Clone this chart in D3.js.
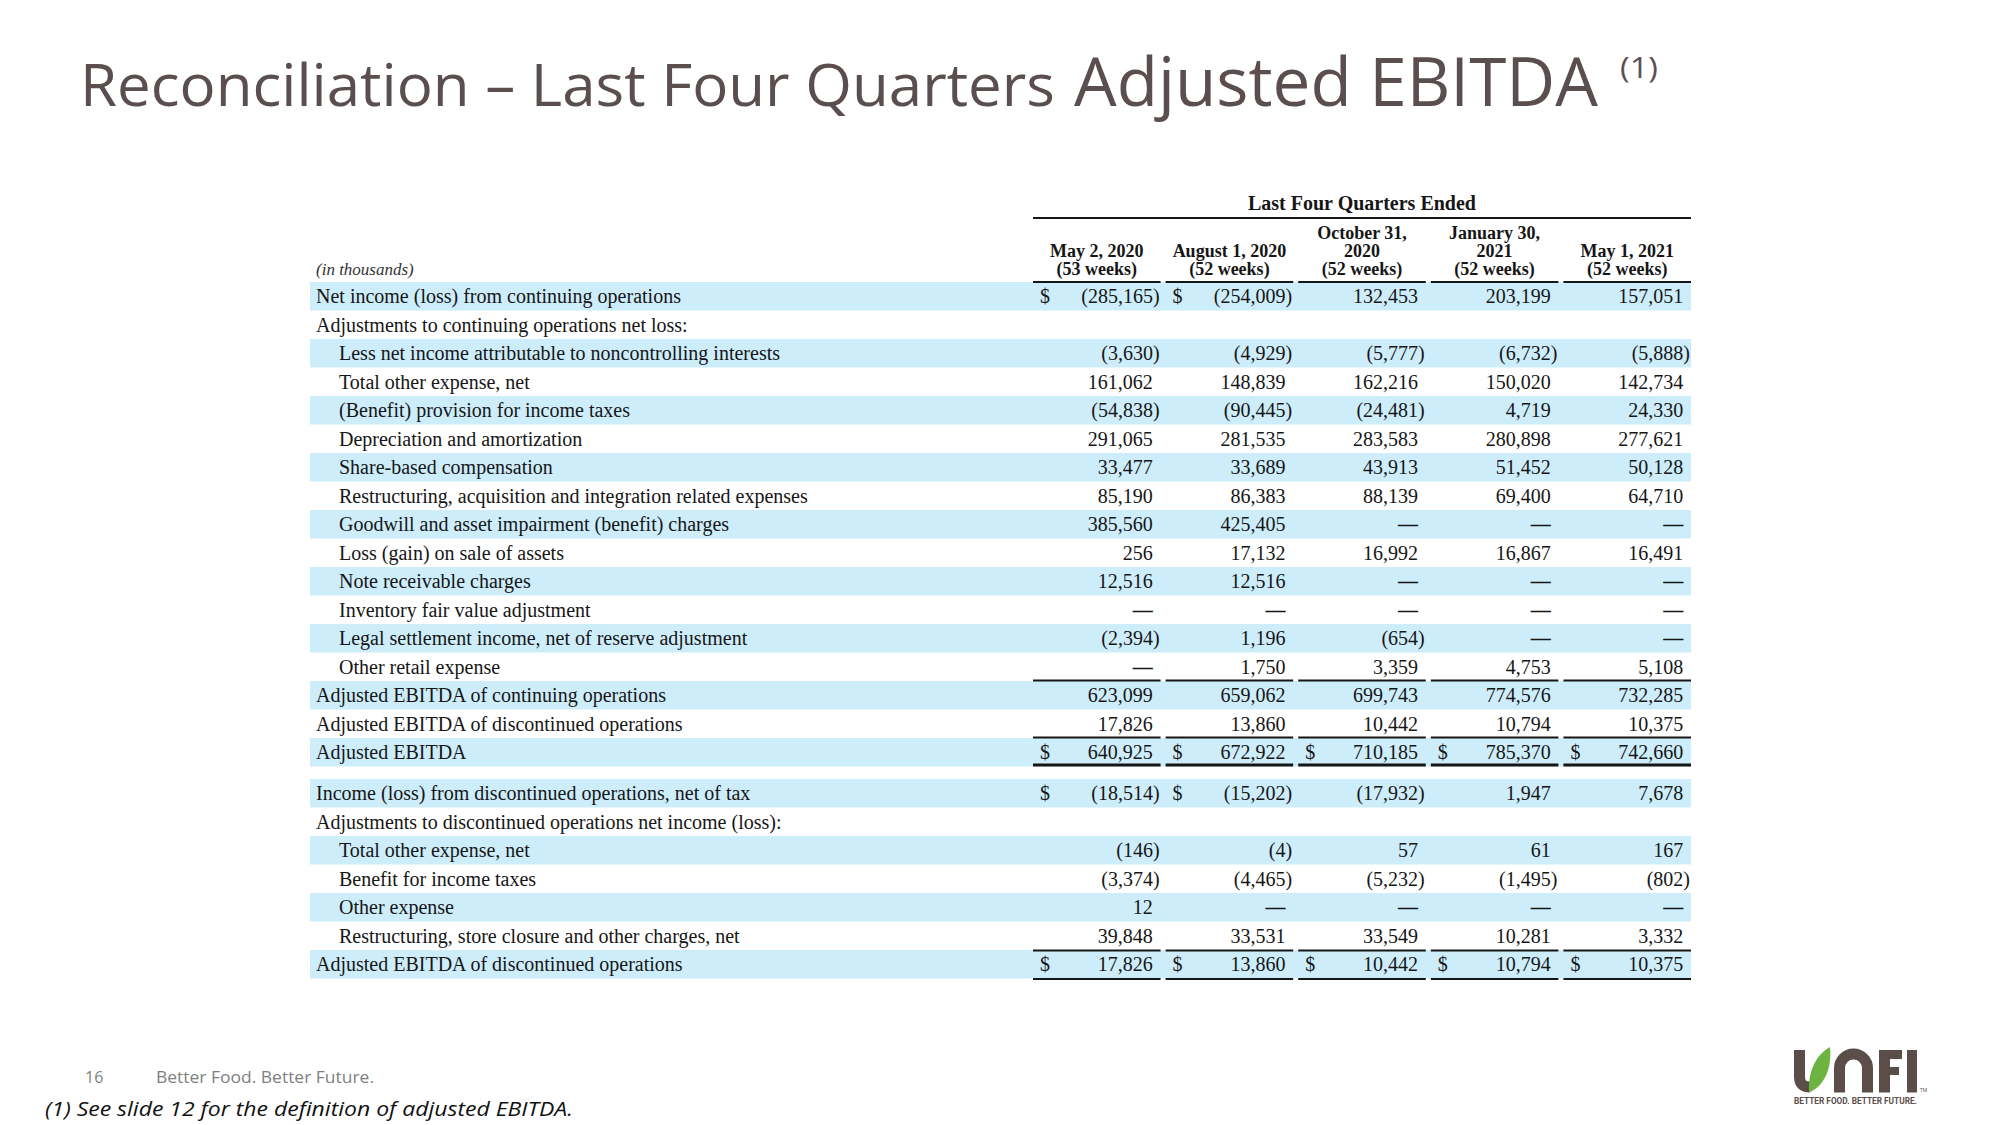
<!DOCTYPE html>
<html>
<head>
<meta charset="utf-8">
<script src="https://cdn.jsdelivr.net/npm/d3@7"></script>
<style>
  html, body { margin: 0; padding: 0; background: #ffffff; }
  svg { display: block; }
</style>
</head>
<body>
<svg id="chart" width="2000" height="1125"></svg>
<script>
// ---------------- DATA ----------------
const groupHeader = "Last Four Quarters Ended";
const columnHeaders = [
  ["May 2, 2020", "(53 weeks)"],
  ["August 1, 2020", "(52 weeks)"],
  ["October 31,", "2020", "(52 weeks)"],
  ["January 30,", "2021", "(52 weeks)"],
  ["May 1, 2021", "(52 weeks)"]
];
const unitsLabel = "(in thousands)";

const section1Labels = [
  "Net income (loss) from continuing operations",
  "Adjustments to continuing operations net loss:",
  "Less net income attributable to noncontrolling interests",
  "Total other expense, net",
  "(Benefit) provision for income taxes",
  "Depreciation and amortization",
  "Share-based compensation",
  "Restructuring, acquisition and integration related expenses",
  "Goodwill and asset impairment (benefit) charges",
  "Loss (gain) on sale of assets",
  "Note receivable charges",
  "Inventory fair value adjustment",
  "Legal settlement income, net of reserve adjustment",
  "Other retail expense",
  "Adjusted EBITDA of continuing operations",
  "Adjusted EBITDA of discontinued operations",
  "Adjusted EBITDA"
];
// 0 = em dash, null = no values in row
const section1Values = [
  [-285165, -254009, 132453, 203199, 157051],
  null,
  [-3630, -4929, -5777, -6732, -5888],
  [161062, 148839, 162216, 150020, 142734],
  [-54838, -90445, -24481, 4719, 24330],
  [291065, 281535, 283583, 280898, 277621],
  [33477, 33689, 43913, 51452, 50128],
  [85190, 86383, 88139, 69400, 64710],
  [385560, 425405, 0, 0, 0],
  [256, 17132, 16992, 16867, 16491],
  [12516, 12516, 0, 0, 0],
  [0, 0, 0, 0, 0],
  [-2394, 1196, -654, 0, 0],
  [0, 1750, 3359, 4753, 5108],
  [623099, 659062, 699743, 774576, 732285],
  [17826, 13860, 10442, 10794, 10375],
  [640925, 672922, 710185, 785370, 742660]
];
const section1Indented = [2,3,4,5,6,7,8,9,10,11,12,13];
const section1Dollars = { 0: [0,1], 16: [0,1,2,3,4] };

const section2Labels = [
  "Income (loss) from discontinued operations, net of tax",
  "Adjustments to discontinued operations net income (loss):",
  "Total other expense, net",
  "Benefit for income taxes",
  "Other expense",
  "Restructuring, store closure and other charges, net",
  "Adjusted EBITDA of discontinued operations"
];
const section2Values = [
  [-18514, -15202, -17932, 1947, 7678],
  null,
  [-146, -4, 57, 61, 167],
  [-3374, -4465, -5232, -1495, -802],
  [12, 0, 0, 0, 0],
  [39848, 33531, 33549, 10281, 3332],
  [17826, 13860, 10442, 10794, 10375]
];
const section2Indented = [2,3,4,5];
const section2Dollars = { 0: [0,1], 6: [0,1,2,3,4] };

const titleMain = "Reconciliation \u2013 Last Four Quarters ";
const titleBig = "Adjusted EBITDA";
const titleNote = "(1)";
const pageNumber = "16";
const tagline = "Better Food. Better Future.";
const footnote = "(1) See slide 12 for the definition of adjusted EBITDA.";

// ---------------- LAYOUT ----------------
const svg = d3.select("#chart");
const serif = "'Liberation Serif', 'Times New Roman', serif";
const sans = "'Open Sans', 'Noto Sans', sans-serif";
const ink = "#161616";
const band = "#cdedfb";
const tableLeft = 310, tableRight = 1691;
const rowH = 28.5;

const x = d3.scaleBand().domain(d3.range(5)).range([1033, 1691]).paddingInner(0.038).paddingOuter(0);
const y1 = d3.scaleLinear().domain([0, 1]).range([282, 282 + rowH]);
const y2 = d3.scaleLinear().domain([0, 1]).range([779, 779 + rowH]);
const fmt = d3.format(",");

// ---------------- TITLE ----------------
const titleColor = "#5a4f4e";
svg.append("text").attr("x", 80).attr("y", 106)
  .attr("font-family", sans).attr("font-size", 59).attr("fill", titleColor)
  .attr("textLength", 975).attr("lengthAdjust", "spacingAndGlyphs")
  .text(titleMain);
svg.append("text").attr("x", 1074).attr("y", 106)
  .attr("font-family", sans).attr("font-size", 68).attr("fill", titleColor)
  .attr("textLength", 524).attr("lengthAdjust", "spacingAndGlyphs")
  .text(titleBig);
svg.append("text").attr("x", 1620).attr("y", 78)
  .attr("font-family", sans).attr("font-size", 30).attr("fill", titleColor)
  .attr("textLength", 38).attr("lengthAdjust", "spacingAndGlyphs")
  .text(titleNote);

// ---------------- TABLE HEADERS ----------------
const tableG = svg.append("g").attr("font-family", serif).attr("fill", ink);

tableG.append("text").attr("x", (x(0) + x(4) + x.bandwidth()) / 2).attr("y", 210)
  .attr("text-anchor", "middle").attr("font-size", 20).attr("font-weight", "bold")
  .text(groupHeader);
tableG.append("line").attr("x1", x(0)).attr("x2", x(4) + x.bandwidth())
  .attr("y1", 218).attr("y2", 218).attr("stroke", ink).attr("stroke-width", 1.8);

columnHeaders.forEach((lines, i) => {
  const base = 275 - (lines.length - 1) * 18;
  lines.forEach((ln, j) => {
    tableG.append("text").attr("x", x(i) + x.bandwidth() / 2).attr("y", base + j * 18)
      .attr("text-anchor", "middle").attr("font-size", 18).attr("font-weight", "bold")
      .text(ln);
  });
});

tableG.append("text").attr("x", 316).attr("y", 275)
  .attr("font-size", 17).attr("font-style", "italic").attr("fill", "#333")
  .text(unitsLabel);

// ---------------- TABLE BODY ----------------
function drawSection(labels, values, indented, dollars, yScale) {
  const g = tableG.append("g");
  // bands
  g.selectAll("rect.band").data(labels.map((d, i) => i).filter(i => i % 2 === 0))
    .enter().append("rect").attr("class", "band")
    .attr("x", tableLeft).attr("width", tableRight - tableLeft)
    .attr("y", i => yScale(i)).attr("height", rowH)
    .attr("fill", band);
  // labels
  g.selectAll("text.label").data(labels).enter().append("text").attr("class", "label")
    .attr("x", (d, i) => indented.includes(i) ? 339 : 316)
    .attr("y", (d, i) => yScale(i) + 21)
    .attr("font-size", 20)
    .text(d => d);
  // values
  values.forEach((row, i) => {
    if (!row) return;
    row.forEach((v, c) => {
      const right = x(c) + x.bandwidth();
      const isDash = v === 0;
      const txt = isDash ? "\u2014" : (v < 0 ? "(" + fmt(-v) + ")" : fmt(v));
      g.append("text")
        .attr("x", v < 0 ? right - 1 : right - 7.7)
        .attr("y", yScale(i) + 21)
        .attr("text-anchor", "end").attr("font-size", 20)
        .attr("font-weight", isDash ? "bold" : null)
        .text(txt);
    });
    (dollars[i] || []).forEach(c => {
      g.append("text").attr("x", x(c) + 7).attr("y", yScale(i) + 21)
        .attr("font-size", 20).text("$");
    });
  });
}

drawSection(section1Labels, section1Values, section1Indented, section1Dollars, y1);
drawSection(section2Labels, section2Values, section2Indented, section2Dollars, y2);

// rule lines (column segments)
function rule(yPos, w) {
  tableG.append("g").selectAll("line").data(d3.range(5)).enter().append("line")
    .attr("x1", c => x(c)).attr("x2", c => x(c) + x.bandwidth())
    .attr("y1", yPos).attr("y2", yPos)
    .attr("stroke", ink).attr("stroke-width", w);
}
rule(y1(0), 1.8);                 // under column headers
rule(y1(14) - 0.5, 1.8);          // above Adjusted EBITDA of continuing operations
rule(y1(16) - 0.5, 1.8);          // above Adjusted EBITDA
rule(y1(17) - 1.5, 3);            // double underline total
rule(y2(6) + 0.5, 1.8);           // above Adjusted EBITDA of discontinued
rule(y2(7) + 0.5, 1.8);           // under total

// ---------------- FOOTER ----------------
svg.append("text").attr("x", 85).attr("y", 1083)
  .attr("font-family", sans).attr("font-size", 16).attr("fill", "#7f7f7f")
  .text(pageNumber);
svg.append("text").attr("x", 156).attr("y", 1083)
  .attr("font-family", sans).attr("font-size", 16).attr("fill", "#7f7f7f")
  .attr("textLength", 218).attr("lengthAdjust", "spacingAndGlyphs")
  .text(tagline);
svg.append("text").attr("x", 45).attr("y", 1116)
  .attr("font-family", sans).attr("font-size", 20).attr("font-style", "italic").attr("fill", "#111")
  .attr("textLength", 528).attr("lengthAdjust", "spacingAndGlyphs")
  .text(footnote);

// ---------------- LOGO ----------------
const brown = "#5b4e4a", green = "#6cb33f";
const logo = svg.append("g");
logo.append("path").attr("d", "M1799.5,1050 V1077 Q1799.5,1087 1810,1087")
  .attr("fill", "none").attr("stroke", brown).attr("stroke-width", 11);
logo.append("path").attr("d", "M1809,1092.5 C1808,1074 1814,1056 1830,1047 C1832,1066 1826,1085 1809,1092.5 Z")
  .attr("fill", green);
logo.append("path").attr("d", "M1839.5,1092.5 V1068 A14,14 0 0 1 1867.5,1068 V1092.5")
  .attr("fill", "none").attr("stroke", brown).attr("stroke-width", 11);
logo.append("rect").attr("x", 1879).attr("y", 1050).attr("width", 11).attr("height", 42.5).attr("fill", brown);
logo.append("rect").attr("x", 1879).attr("y", 1050).attr("width", 23).attr("height", 9).attr("fill", brown);
logo.append("rect").attr("x", 1879).attr("y", 1067).attr("width", 20).attr("height", 8).attr("fill", brown);
logo.append("rect").attr("x", 1907).attr("y", 1050).attr("width", 10).attr("height", 42.5).attr("fill", brown);
logo.append("text").attr("x", 1920).attr("y", 1092).attr("font-family", sans)
  .attr("font-size", 5).attr("fill", brown).text("TM");
logo.append("text").attr("x", 1794).attr("y", 1104).attr("font-family", "'Roboto', sans-serif")
  .attr("font-size", 9).attr("font-weight", "bold").attr("fill", brown)
  .attr("textLength", 123).attr("lengthAdjust", "spacingAndGlyphs")
  .text("BETTER FOOD. BETTER FUTURE.");
</script>
</body>
</html>
